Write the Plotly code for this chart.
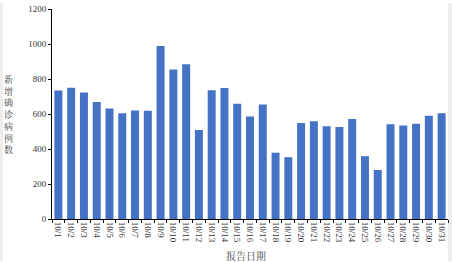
import plotly.graph_objects as go

dates = [f"10/{d}" for d in range(1, 32)]
cases = [735, 750, 723, 669, 631, 605, 620, 618, 988, 855, 884, 509, 736, 749, 659,
         586, 654, 379, 353, 548, 558, 530, 526, 571, 359, 280, 541, 535, 545, 590, 605]
y_ticks = [0, 200, 400, 600, 800, 1000, 1200]
y_title = "新增确诊病例数"
x_title = "报告日期"

FONT = "Liberation Serif, Noto Serif CJK SC, Noto Sans CJK SC, serif"

fig = go.Figure(go.Bar(x=dates, y=cases, marker=dict(color="#4472C4", line=dict(width=0))))

fig.update_layout(
    width=452, height=262,
    margin=dict(l=52, r=4, t=6, b=43),
    paper_bgcolor="white", plot_bgcolor="white",
    bargap=0.375,
    showlegend=False,
    font=dict(family=FONT, size=9, color="#333333"),
    xaxis=dict(
        type="category", tickangle=90, tickson="boundaries",
        ticks="outside", ticklen=3, tickcolor="black",
        showline=True, linecolor="black", linewidth=1,
        showgrid=False, tickfont=dict(size=9, color="#333333"),
    ),
    yaxis=dict(
        range=[0, 1200], tickvals=y_ticks,
        ticks="outside", ticklen=3, tickcolor="black",
        showline=True, linecolor="black", linewidth=1,
        showgrid=False, zeroline=False, tickfont=dict(size=9, color="#333333"),
    ),
    annotations=[
        dict(text="<br>".join(y_title), xref="paper", yref="paper",
             x=-0.111, y=0.5, xanchor="center", yanchor="middle",
             showarrow=False, font=dict(size=9, color="#444444", family=FONT)),
        dict(text=x_title, xref="paper", yref="paper",
             x=0.49, y=-0.175, xanchor="center", yanchor="middle",
             showarrow=False, font=dict(size=10, color="#444444", family=FONT)),
    ],
    shapes=[
        dict(type="rect", xref="paper", yref="paper", x0=-52/396, x1=-49/396,
             y0=-43/213, y1=1+6/213, fillcolor="#eeeeee", line=dict(width=0), layer="below"),
        dict(type="rect", xref="paper", yref="paper", x0=1, x1=1+4/396,
             y0=-43/213, y1=1+6/213, fillcolor="#eeeeee", line=dict(width=0), layer="below"),
    ],
)

fig.write_html("out.html")
